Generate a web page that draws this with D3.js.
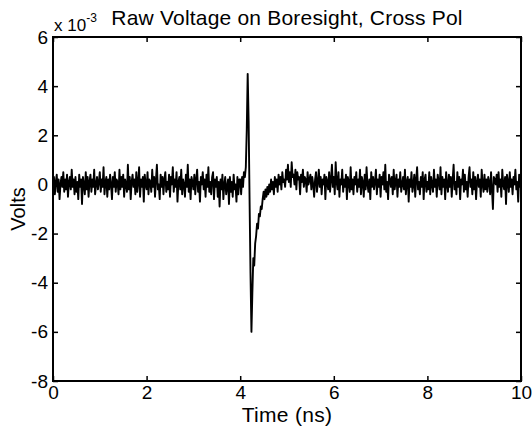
<!DOCTYPE html>
<html>
<head>
<meta charset="utf-8">
<script src="https://cdn.jsdelivr.net/npm/d3@7"></script>
<style>
  body { margin: 0; background: #fff; }
  text { font-family: "Liberation Sans", Arial, sans-serif; fill: #000; }
</style>
</head>
<body>
<div id="chart"></div>
<script>
// datos (voltios x 1e-3), una muestra cada 0.02 ns
const sampleStep = 0.02;
const voltage = [
  -0.2, 0.3, -0.4, 0.1, 0.4, -0.3, 0.2, -0.6, 0.0, 0.3, -0.1, 0.5, -0.3, 0.2, -0.2, 0.4, -0.5, 0.1, 0.3, -0.2, 0.6, -0.1, 0.2, -0.4, 0.3,
  -0.3, 0.1, -0.6, 0.4, -0.1, 0.2, -0.8, 0.3, 0.0, -0.4, 0.5, -0.2, 0.3, -0.5, 0.1, 0.4, -0.3, 0.2, -0.1, 0.6, -0.4, 0.0, 0.3, -0.2, 0.1,
  0.5, -0.3, 0.2, -0.1, 0.7, -0.4, 0.1, 0.3, -0.5, 0.2, -0.2, 0.4, 0.0, -0.6, 0.3, -0.1, 0.5, -0.3, 0.2, 0.1, -0.4, 0.6, -0.2, 0.3, -0.1,
  0.4, -0.5, 0.2, 0.0, -0.3, 0.8, -0.2, 0.3, -0.6, 0.1, 0.4, -0.1, 0.2, -0.4, 0.5, -0.3, 0.1, 0.7, -0.5, 0.2, -0.1, 0.3, -0.7, 0.4, 0.0,
  -0.2, 0.5, -0.4, 0.2, 0.1, -0.3, 0.6, -0.1, 0.3, -0.5, 0.2, 0.8, -0.2, 0.0, -0.6, 0.4, -0.1, 0.3, -0.4, 0.2, 0.5, -0.3, 0.1, -0.2, 0.4,
  -0.5, 0.3, 0.0, 0.7, -0.3, 0.2, -0.1, 0.5, -0.7, 0.1, 0.3, -0.2, 0.6, -0.4, 0.2, 0.0, -0.5, 0.4, -0.1, 0.8, -0.3, 0.2, -0.6, 0.3, 0.1,
  -0.2, 0.4, -0.4, 0.2, 0.6, -0.3, 0.1, -0.7, 0.3, 0.0, 0.5, -0.2, 0.2, -0.5, 0.4, -0.1, 0.7, -0.3, 0.1, -0.4, 0.3, 0.5, -0.6, 0.2, -0.1,
  0.3, -0.5, 0.1, -0.9, 0.2, -0.2, 0.4, -0.6, 0.0, 0.3, -0.4, -0.1, 0.2, -0.8, 0.3, -0.3, 0.1, -0.5, 0.4, -0.2, 0.0, -0.7, 0.3, -0.4, 0.2,
  0.2, -0.4, 0.3, -0.1, 0.5, 0.3, 0.7, 2.2, 4.5, 2.6, -0.6, -3.6, -6.0, -4.4, -3.0, -3.3, -2.4, -2.1, -1.6, -1.8, -1.2, -1.3, -0.9, -1.0, -0.6,
  -0.3, -0.6, -0.2, -0.5, -0.1, -0.4, 0.0, -0.3, 0.2, -0.2, 0.1, -0.4, 0.3, -0.1, 0.2, -0.3, 0.4, 0.0, 0.3, -0.2, 0.5, 0.1, 0.2, -0.1, 0.6,
  0.2, 0.8, 0.1, 0.5, -0.1, 0.9, 0.3, 0.4, 0.0, 0.6, -0.2, 0.5, 0.2, 0.3, -0.4, 0.4, 0.1, 0.6, -0.1, 0.3, 0.2, -0.3, 0.5, 0.0, 0.2,
  0.4, -0.2, 0.3, 0.0, -0.5, 0.2, 0.5, -0.3, 0.1, 0.6, -0.1, 0.3, -0.4, 0.2, 0.0, 0.4, -0.6, 0.3, 0.1, -0.2, 0.5, -0.3, 0.2, 0.8, -0.1,
  0.3, -0.4, 0.9, 0.1, -0.2, 0.5, -0.5, 0.2, 0.0, 0.6, -0.3, 0.2, -0.1, 0.4, -0.6, 0.3, 0.1, -0.3, 0.7, -0.2, 0.2, -0.4, 0.3, 0.0, 0.5,
  -0.3, 0.2, -0.1, 0.6, -0.4, 0.3, 0.1, -0.5, 0.4, -0.2, 0.7, 0.0, -0.3, 0.2, -0.6, 0.5, -0.1, 0.3, -0.2, 0.1, 0.6, -0.4, 0.2, -0.1, 0.4,
  -0.5, 0.3, 0.0, 0.5, -0.2, 0.8, -0.3, 0.1, -0.6, 0.4, 0.2, -0.1, 0.3, -0.4, 0.6, -0.2, 0.1, 0.4, -0.5, 0.2, -0.1, 0.5, -0.3, 0.0, 0.3,
  -0.2, 0.6, -0.4, 0.1, 0.3, -0.7, 0.2, -0.1, 0.5, -0.3, 0.0, 0.4, -0.5, 0.2, 0.7, -0.2, 0.1, -0.4, 0.3, -0.1, 0.5, -0.6, 0.2, 0.4, -0.3,
  0.1, -0.2, 0.5, -0.4, 0.3, 0.0, -0.3, 0.6, -0.1, 0.2, -0.5, 0.4, 0.1, -0.2, 0.7, -0.4, 0.3, -0.1, 0.2, -0.6, 0.5, 0.0, -0.3, 0.4, -0.1,
  0.3, -0.5, 0.2, 0.8, -0.2, 0.1, -0.4, 0.5, -0.1, 0.3, -0.6, 0.2, 0.0, 0.6, -0.3, 0.4, -0.2, 0.1, -0.5, 0.3, 0.7, -0.1, 0.2, -0.4, 0.5,
  -0.2, 0.3, -0.6, 0.1, 0.4, -0.1, 0.2, -0.5, 0.6, 0.0, -0.3, 0.4, -0.2, 0.2, -0.3, 0.3, 0.1, -0.4, 0.5, -0.2, -1.0, 0.3, 0.2, 0.0, 0.4,
  -0.3, 0.5, -0.1, 0.2, -0.5, 0.6, 0.0, -0.2, 0.3, -0.8, 0.4, 0.1, -0.3, 0.5, -0.1, 0.2, -0.4, 0.3, 0.0, 0.6, -0.2, 0.1, -0.7, 0.4, -0.1,
  0.2
];
const xTicks = [0, 2, 4, 6, 8, 10];
const yTicks = [-8, -6, -4, -2, 0, 2, 4, 6];
const titleText = 'Raw Voltage on Boresight, Cross Pol';
const xLabel = 'Time (ns)';
const yLabel = 'Volts';

const width = 532;
const height = 434;
const margin = { top: 37, right: 11, bottom: 53, left: 53 };
const innerW = width - margin.left - margin.right;
const innerH = height - margin.top - margin.bottom;

const svg = d3.select('#chart')
    .append('svg')
    .attr('width', width)
    .attr('height', height);

const g = svg.append('g')
    .attr('transform', `translate(${margin.left},${margin.top})`);

const xScale = d3.scaleLinear().domain([0, 10]).range([0, innerW]);
const yScale = d3.scaleLinear().domain([-8, 6]).range([innerH, 0]);

// curva
const line = d3.line()
    .x((d, i) => xScale(i * sampleStep))
    .y(d => yScale(d));

g.append('path')
    .datum(voltage)
    .attr('fill', 'none')
    .attr('stroke', '#000')
    .attr('stroke-width', 1.9)
    .attr('stroke-linejoin', 'round')
    .attr('d', line);

// ejes con marcas hacia dentro (estilo MATLAB), guion normal para negativos
const tickLen = 5;
const fontSize = 19;
const plainNum = d => String(d);

const xBottom = g.append('g')
    .attr('transform', `translate(0,${innerH})`)
    .call(d3.axisBottom(xScale).tickValues(xTicks).tickFormat(plainNum).tickSizeInner(-tickLen).tickSizeOuter(0).tickPadding(5));
const xTop = g.append('g')
    .call(d3.axisTop(xScale).tickValues(xTicks).tickSizeInner(-tickLen).tickSizeOuter(0).tickFormat(''));
const yLeft = g.append('g')
    .call(d3.axisLeft(yScale).tickValues(yTicks).tickFormat(plainNum).tickSizeInner(-tickLen).tickSizeOuter(0).tickPadding(5));
const yRight = g.append('g')
    .attr('transform', `translate(${innerW},0)`)
    .call(d3.axisRight(yScale).tickValues(yTicks).tickSizeInner(-tickLen).tickSizeOuter(0).tickFormat(''));

[xBottom, xTop, yLeft, yRight].forEach(ax => {
    ax.select('.domain').remove();
    ax.selectAll('line').attr('stroke', '#000').attr('stroke-width', 1.5);
    ax.selectAll('text')
        .style('font-family', '"Liberation Sans", Arial, sans-serif')
        .style('font-size', fontSize + 'px')
        .attr('fill', '#000');
});

// caja
g.append('rect')
    .attr('x', 0)
    .attr('y', 0)
    .attr('width', innerW)
    .attr('height', innerH)
    .attr('fill', 'none')
    .attr('stroke', '#000')
    .attr('stroke-width', 2);

// exponente
const expo = svg.append('text')
    .attr('x', margin.left + 1)
    .attr('y', 31)
    .style('font-size', '17px');
expo.append('tspan').text('x 10');
expo.append('tspan').attr('dy', -9).style('font-size', '12px').text('-3');

// título
svg.append('text')
    .attr('x', margin.left + innerW / 2)
    .attr('y', 25)
    .attr('text-anchor', 'middle')
    .style('font-size', '21px')
    .style('letter-spacing', '0.2px')
    .text(titleText);

// etiquetas de los ejes
svg.append('text')
    .attr('x', margin.left + innerW / 2)
    .attr('y', 422)
    .attr('text-anchor', 'middle')
    .style('font-size', '21px')
    .style('letter-spacing', '0.3px')
    .text(xLabel);

svg.append('text')
    .attr('transform', `translate(25,${margin.top + innerH / 2}) rotate(-90)`)
    .attr('text-anchor', 'middle')
    .style('font-size', '20px')
    .text(yLabel);
</script>
</body>
</html>
